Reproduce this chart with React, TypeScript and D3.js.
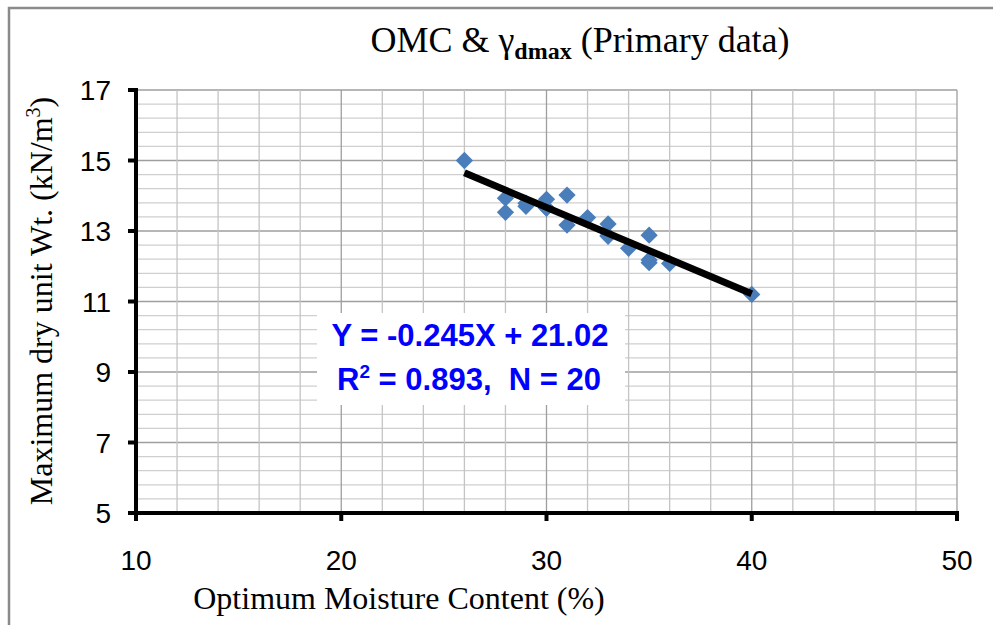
import React from "react";
import * as d3 from "d3";

const omc = [26, 28, 28, 29, 29, 30, 30, 30, 31, 31, 32, 33, 33, 33, 34, 35, 35, 35, 36, 40];
const gammaDmax = [15.0, 13.93, 13.53, 13.79, 13.7, 13.9, 13.65, 13.65, 14.02, 13.17, 13.38, 13.2, 12.87, 12.85, 12.51, 12.88, 12.18, 12.1, 12.08, 11.2];
const xTicks = [10, 20, 30, 40, 50];
const yTicks = [5, 7, 9, 11, 13, 15, 17];
const slope = -0.245;
const intercept = 21.02;
const trendRange = [26, 40];
const eqLine1 = "Y = -0.245X + 21.02";
const eqLine2 = " = 0.893,\u00A0\u00A0N = 20";

const W = 993;
const H = 625;
const left = 136, right = 957, top = 90, bottom = 513;

export default function App() {
  const x = d3.scaleLinear().domain([10, 50]).range([left, right]);
  const y = d3.scaleLinear().domain([5, 17]).range([bottom, top]);

  const xMinor = d3.range(10, 50.001, 2);
  const yMinor = d3.range(0, 31).map((i) => 5 + i * 0.4);

  const sym = d3.symbol().type(d3.symbolDiamond2).size(190);
  const diamond = sym() as string;

  const trend = d3.line<number>()
    .x((v) => x(v))
    .y((v) => y(slope * v + intercept))(trendRange) as string;

  return (
    <svg width={W} height={H} style={{ position: "absolute", left: 0, top: 0, background: "#fff" }}>
      <rect x={0} y={0} width={W} height={H} fill="#fff" />
      <rect x={9} y={8} width={1100} height={800} fill="none" stroke="#8a8a8a" strokeWidth={2.5} />
      {/* grid */}
      {yMinor.map((v, i) => (
        <line key={"yg" + i} x1={left} x2={right} y1={y(v)} y2={y(v)}
          stroke={i % 5 === 0 ? "#9e9e9e" : "#cfcfcf"} strokeWidth={1.3} />
      ))}
      {xMinor.map((v, i) => (
        <line key={"xg" + i} x1={x(v)} x2={x(v)} y1={top} y2={bottom}
          stroke={i % 5 === 0 ? "#9e9e9e" : "#c4c4c4"} strokeWidth={1.3} />
      ))}
      {/* equation box */}
      <rect x={317} y={313} width={308} height={92} fill="#fff" />
      {/* axes */}
      <line x1={left} x2={left} y1={top - 2} y2={bottom + 8} stroke="#000" strokeWidth={4} />
      <line x1={left - 8} x2={right + 2} y1={bottom} y2={bottom} stroke="#000" strokeWidth={4} />
      {yTicks.map((v) => (
        <g key={"yt" + v}>
          <line x1={left - 8} x2={left} y1={y(v)} y2={y(v)} stroke="#000" strokeWidth={4} />
          <text x={111} y={y(v) + 10} textAnchor="end" fontFamily="Liberation Sans, Arial, sans-serif" fontSize={28} fill="#000">{v}</text>
        </g>
      ))}
      {xTicks.map((v) => (
        <g key={"xt" + v}>
          <line x1={x(v)} x2={x(v)} y1={bottom} y2={bottom + 8} stroke="#000" strokeWidth={4} />
          <text x={x(v)} y={570} textAnchor="middle" fontFamily="Liberation Sans, Arial, sans-serif" fontSize={28} fill="#000">{v}</text>
        </g>
      ))}
      {/* points */}
      {omc.map((v, i) => (
        <path key={"p" + i} d={diamond} transform={`translate(${x(v)},${y(gammaDmax[i])})`} fill="#4a7ebb" />
      ))}
      {/* trendline */}
      <path d={trend} fill="none" stroke="#000" strokeWidth={7} />
      {/* equation */}
      <text x={470} y={346} textAnchor="middle" fontFamily="Liberation Sans, Arial, sans-serif" fontWeight="bold" fontSize={31} fill="#0000ff">{eqLine1}</text>
      <text x={469} y={390} textAnchor="middle" fontFamily="Liberation Sans, Arial, sans-serif" fontWeight="bold" fontSize={31} fill="#0000ff">
        R<tspan fontSize={19} dy={-12}>2</tspan><tspan dy={12}>{eqLine2}</tspan>
      </text>
      {/* title */}
      <text x={580} y={52} textAnchor="middle" fontFamily="Liberation Serif, Times New Roman, serif" fontSize={36} fill="#000">
        OMC &amp; γ<tspan fontSize={24} fontWeight="bold" dy={7}>dmax</tspan><tspan dy={-7}>{" (Primary data)"}</tspan>
      </text>
      {/* axis titles */}
      <text x={399} y={609} textAnchor="middle" fontFamily="Liberation Serif, Times New Roman, serif" fontSize={32} fill="#000">Optimum Moisture Content (%)</text>
      <text transform="translate(52,301) rotate(-90)" textAnchor="middle" fontFamily="Liberation Serif, Times New Roman, serif" fontSize={32} fill="#000">
        Maximum dry unit Wt. (kN/m<tspan fontSize={20} dy={-12}>3</tspan><tspan dy={12}>)</tspan>
      </text>
    </svg>
  );
}
